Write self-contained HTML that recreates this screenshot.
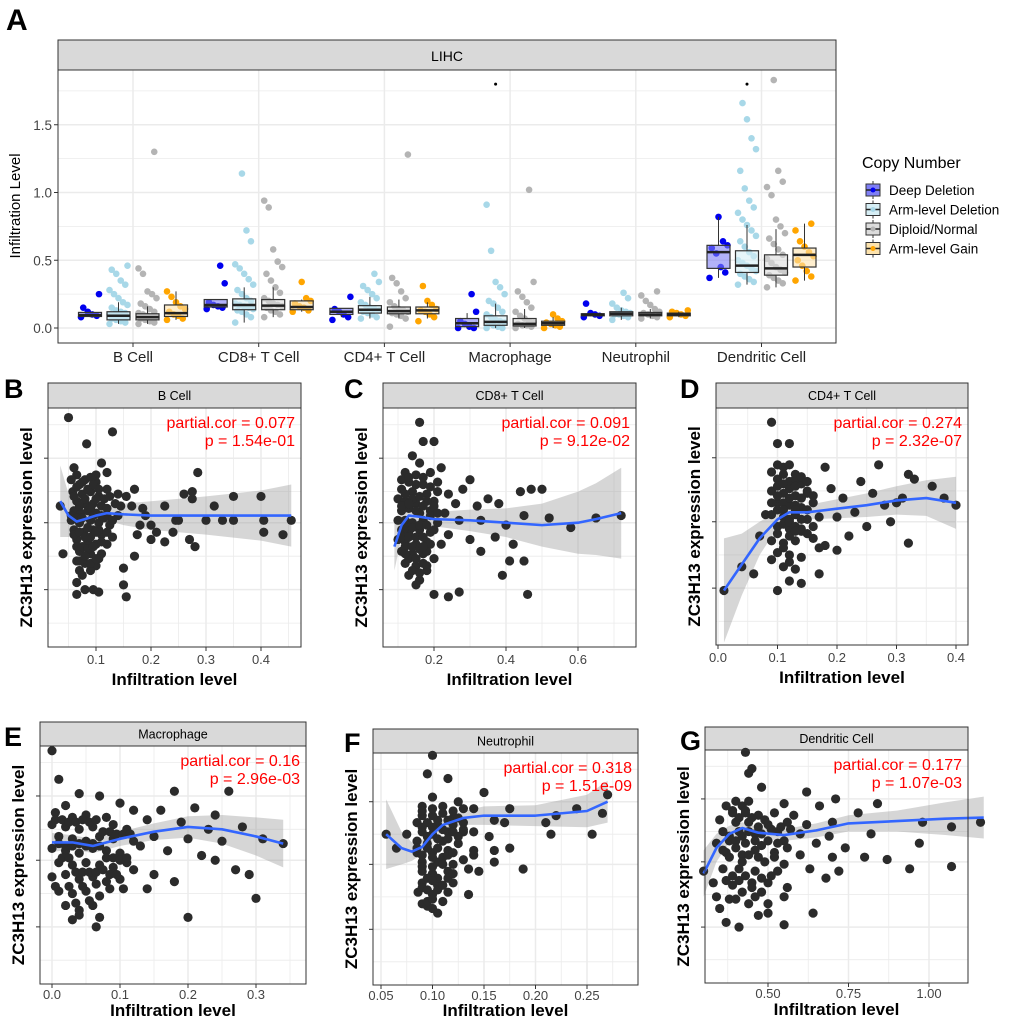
<!DOCTYPE html>
<html><head><meta charset="utf-8"><style>
html,body{margin:0;padding:0;background:#fff;}
svg{display:block;font-family:"Liberation Sans",Arial,sans-serif;}
</style></head><body>
<svg id="fig" width="1020" height="1020" viewBox="0 0 1020 1020" xmlns="http://www.w3.org/2000/svg"></svg>
<script>
// ===== Panel A data =====
const aCategories = ["B Cell","CD8+ T Cell","CD4+ T Cell","Macrophage","Neutrophil","Dendritic Cell"];
const aGroups = ["Deep Deletion","Arm-level Deletion","Diploid/Normal","Arm-level Gain"];
const aYTicks = [0,0.5,1.0,1.5];
const aYTickLabels = ["0.0","0.5","1.0","1.5"];
const aBoxDeep = [[0.085,0.095,0.115,0.08,0.12],[0.155,0.17,0.21,0.15,0.21],[0.1,0.12,0.145,0.08,0.145],[0.01,0.035,0.07,0,0.11],[0.09,0.1,0.105,0.085,0.11],[0.44,0.56,0.61,0.37,0.82]];
const aBoxArm = [[0.06,0.09,0.12,0.03,0.19],[0.135,0.17,0.215,0.04,0.3],[0.11,0.135,0.165,0.07,0.23],[0.02,0.045,0.09,0,0.18],[0.09,0.105,0.12,0.06,0.15],[0.41,0.46,0.57,0.32,0.76]];
const aBoxDip = [[0.06,0.08,0.105,0.03,0.16],[0.135,0.165,0.21,0.08,0.3],[0.105,0.125,0.155,0.07,0.21],[0.015,0.03,0.07,0,0.14],[0.09,0.1,0.115,0.07,0.14],[0.39,0.44,0.54,0.3,0.73]];
const aBoxGain = [[0.085,0.11,0.17,0.06,0.27],[0.135,0.155,0.2,0.12,0.21],[0.105,0.13,0.155,0.07,0.19],[0.02,0.035,0.05,0,0.08],[0.09,0.1,0.11,0.08,0.12],[0.45,0.54,0.59,0.35,0.77]];
const aPtsDeep = [[0.08,0.09,0.1,0.12,0.15,0.25],[0.14,0.15,0.16,0.17,0.19,0.33,0.46],[0.06,0.08,0.1,0.12,0.14,0.23],[0,0,0.01,0.03,0.05,0.12,0.25],[0.08,0.09,0.1,0.11,0.18],[0.37,0.41,0.45,0.55,0.59,0.61,0.64,0.82]];
const aPtsArm = [[0.03,0.04,0.05,0.06,0.07,0.08,0.08,0.09,0.1,0.1,0.11,0.12,0.13,0.15,0.17,0.19,0.22,0.25,0.28,0.32,0.35,0.4,0.43,0.46],[0.04,0.08,0.1,0.12,0.13,0.14,0.15,0.16,0.17,0.18,0.2,0.22,0.25,0.28,0.32,0.36,0.4,0.44,0.47,0.64,0.72,1.14],[0.07,0.08,0.1,0.11,0.12,0.13,0.14,0.15,0.17,0.19,0.22,0.25,0.28,0.31,0.34,0.4],[0,0,0.01,0.02,0.03,0.04,0.05,0.06,0.08,0.1,0.12,0.15,0.18,0.2,0.25,0.3,0.34,0.57,0.91],[0.06,0.08,0.09,0.1,0.1,0.11,0.12,0.13,0.15,0.18,0.22,0.26],[0.32,0.34,0.36,0.38,0.4,0.42,0.44,0.46,0.48,0.5,0.53,0.56,0.6,0.64,0.68,0.72,0.76,0.8,0.85,0.89,0.94,1.03,1.16,1.32,1.4,1.54,1.66]];
const aPtsDip = [[0.03,0.04,0.05,0.06,0.07,0.08,0.08,0.09,0.1,0.11,0.12,0.14,0.16,0.18,0.22,0.25,0.27,0.4,0.44,1.3],[0.08,0.1,0.12,0.13,0.15,0.16,0.17,0.18,0.2,0.22,0.26,0.3,0.35,0.4,0.45,0.49,0.58,0.89,0.94],[0.01,0.07,0.09,0.1,0.11,0.12,0.13,0.14,0.16,0.19,0.22,0.27,0.33,0.37,1.28],[0,0.01,0.02,0.02,0.03,0.04,0.05,0.07,0.09,0.12,0.15,0.19,0.23,0.27,0.34,1.02],[0.07,0.08,0.09,0.1,0.11,0.12,0.14,0.17,0.2,0.24,0.27],[0.3,0.33,0.35,0.37,0.39,0.41,0.43,0.45,0.48,0.51,0.54,0.58,0.62,0.66,0.7,0.75,0.8,0.98,1.04,1.08,1.16,1.83]];
const aPtsGain = [[0.06,0.07,0.09,0.1,0.12,0.14,0.16,0.19,0.23,0.27],[0.12,0.13,0.15,0.16,0.18,0.2,0.22,0.34],[0.05,0.08,0.1,0.12,0.13,0.14,0.17,0.2,0.31],[0,0.01,0.02,0.03,0.04,0.05,0.07,0.1],[0.08,0.09,0.1,0.11,0.12,0.13],[0.35,0.38,0.42,0.46,0.5,0.53,0.56,0.6,0.64,0.72,0.77]];
const aOutlierCats = [3,5];
const aOutlierVals = [1.8,1.8];

// ===== Scatter panel data (x = infiltration, y = relative expression 0-10) =====
const bX=[0.05,0.083,0.13,0.06,0.11,0.12,0.1,0.065,0.08,0.09,0.07,0.1,0.12,0.058,0.075,0.09,0.105,0.08,0.065,0.095,0.11,0.135,0.145,0.06,0.072,0.085,0.1,0.12,0.14,0.035,0.055,0.07,0.09,0.105,0.125,0.06,0.078,0.095,0.11,0.13,0.065,0.085,0.1,0.12,0.07,0.09,0.11,0.065,0.08,0.1,0.04,0.07,0.09,0.15,0.065,0.08,0.095,0.15,0.065,0.105,0.155,0.17,0.18,0.175,0.19,0.2,0.2,0.21,0.225,0.24,0.245,0.26,0.275,0.27,0.28,0.285,0.275,0.315,0.35,0.35,0.4,0.405,0.44,0.455,0.155,0.165,0.14,0.17,0.185,0.225,0.3,0.33,0.405,0.25];
const bY=[9.6,8.5,9.0,7.5,7.7,7.3,7.2,7.2,7.0,7.1,6.8,6.9,6.6,6.5,6.4,6.5,6.3,6.0,6.1,6.0,5.9,6.0,5.9,5.7,5.6,5.7,5.6,5.5,5.5,5.9,5.3,5.2,5.3,5.2,5.1,4.9,4.8,4.9,4.7,4.6,4.5,4.4,4.3,4.3,4.0,3.9,3.9,3.6,3.5,3.4,3.9,3.2,3.2,3.3,2.7,2.4,2.4,2.6,2.2,2.3,2.1,3.8,5.1,4.7,5.5,5.1,4.5,4.8,4.4,4.8,5.3,6.4,6.2,4.5,4.2,7.3,6.5,5.9,6.3,5.3,6.3,4.8,4.7,5.3,6.3,5.9,6.4,6.6,5.8,5.9,5.3,5.3,5.3,5.3];
const bX2=[0.055,0.065,0.075,0.085,0.095,0.105,0.115,0.125,0.06,0.07,0.08,0.09,0.1,0.11,0.12,0.13,0.055,0.065,0.075,0.085,0.095,0.105,0.115,0.06,0.07,0.08,0.09,0.1,0.11,0.12,0.065,0.075,0.085,0.095,0.105,0.07,0.08,0.09,0.1,0.075];
const bY2=[7.0,6.7,6.9,6.6,6.8,6.6,6.2,6.3,6.3,5.9,6.2,5.8,6.2,5.5,5.8,5.3,5.5,5.4,5.4,5.0,5.5,4.9,5.4,4.7,4.8,4.6,4.6,4.8,4.4,4.8,4.2,4.2,4.1,4.2,3.7,3.6,3.8,3.5,3.7,3.0];
const bFitX=[0.035,0.05,0.065,0.08,0.1,0.12,0.15,0.2,0.3,0.4,0.455];
const bFitY=[6.1,5.5,5.25,5.35,5.5,5.6,5.55,5.5,5.5,5.5,5.5];
const bFitSE=[1.5,0.9,0.45,0.3,0.25,0.3,0.45,0.6,0.8,1.05,1.3];

const cX=[0.16,0.17,0.2,0.14,0.16,0.22,0.12,0.15,0.19,0.13,0.17,0.21,0.11,0.14,0.18,0.24,0.1,0.12,0.15,0.2,0.26,0.11,0.13,0.16,0.19,0.23,0.1,0.12,0.14,0.17,0.21,0.27,0.11,0.13,0.16,0.19,0.24,0.1,0.12,0.15,0.18,0.22,0.11,0.14,0.17,0.2,0.12,0.15,0.18,0.13,0.16,0.2,0.24,0.27,0.3,0.32,0.33,0.35,0.37,0.38,0.4,0.41,0.42,0.44,0.45,0.46,0.47,0.5,0.52,0.58,0.65,0.72,0.3,0.28,0.33,0.39,0.45];
const cY=[9.4,8.6,8.6,8.0,7.7,7.5,7.3,7.2,7.3,6.9,6.8,6.9,6.6,6.5,6.4,6.4,6.2,6.1,6.0,6.1,6.0,5.7,5.8,5.6,5.7,5.6,5.3,5.3,5.2,5.3,5.2,5.3,4.9,4.8,4.9,4.8,4.7,4.5,4.4,4.3,4.4,4.3,4.0,3.9,3.9,3.7,3.5,3.4,3.2,3.0,2.8,2.2,2.1,2.3,4.5,5.9,5.3,6.2,4.6,6.0,5.1,3.6,4.3,6.5,5.5,2.2,6.6,6.6,5.4,5.0,5.4,5.5,7.0,6.6,4.0,3.0,3.6];
const cX2=[0.11,0.13,0.15,0.17,0.19,0.21,0.12,0.14,0.16,0.18,0.2,0.11,0.13,0.15,0.17,0.19,0.21,0.12,0.14,0.16,0.18,0.2,0.11,0.13,0.15,0.17,0.19,0.12,0.14,0.16,0.18,0.13,0.15,0.17,0.12,0.14,0.16,0.18,0.15,0.17];
const cY2=[7.0,7.1,6.8,7.1,6.7,6.5,6.4,6.2,6.3,6.1,5.9,5.9,6.0,5.7,5.9,5.5,5.6,5.0,5.0,5.1,5.1,4.9,4.6,4.6,4.6,4.6,4.3,4.2,4.2,4.1,4.0,3.7,3.7,3.5,3.9,3.2,3.1,3.4,2.6,4.2];
const cFitX=[0.09,0.11,0.13,0.16,0.2,0.3,0.4,0.5,0.6,0.65,0.72];
const cFitY=[4.2,5.1,5.5,5.45,5.35,5.3,5.2,5.1,5.2,5.35,5.6];
const cFitSE=[1.0,0.5,0.3,0.25,0.3,0.45,0.6,0.9,1.3,1.5,1.9];

const dX=[0.01,0.04,0.06,0.07,0.08,0.09,0.1,0.09,0.1,0.12,0.11,0.13,0.1,0.12,0.14,0.09,0.11,0.13,0.15,0.1,0.12,0.14,0.16,0.09,0.11,0.13,0.15,0.1,0.12,0.14,0.09,0.11,0.13,0.16,0.1,0.12,0.14,0.11,0.13,0.12,0.14,0.17,0.18,0.19,0.2,0.21,0.22,0.23,0.24,0.25,0.26,0.27,0.28,0.29,0.3,0.31,0.32,0.33,0.32,0.36,0.38,0.4,0.2,0.17,0.18];
const dY=[2.3,3.3,3.0,4.6,5.5,3.6,2.3,9.4,8.5,8.5,7.5,7.2,7.0,6.9,6.8,6.5,6.4,6.3,6.4,6.0,5.9,5.8,6.0,5.5,5.4,5.5,5.3,5.0,4.9,4.8,4.4,4.3,4.4,4.5,3.9,3.8,3.7,3.3,3.2,2.7,2.6,3.0,7.5,6.6,5.4,6.2,4.6,5.6,6.9,5.0,6.4,7.6,5.9,5.2,6.0,6.2,7.2,7.0,4.3,6.7,6.2,5.9,4.0,5.4,4.2];
const dX2=[0.09,0.1,0.11,0.12,0.13,0.14,0.15,0.1,0.11,0.12,0.13,0.14,0.15,0.16,0.09,0.1,0.11,0.12,0.13,0.14,0.15,0.1,0.11,0.12,0.13,0.14,0.11,0.12,0.13,0.14,0.1,0.12,0.13,0.15,0.16,0.17,0.11,0.12];
const dY2=[7.3,7.6,7.2,7.6,7.0,7.1,6.9,6.7,6.8,6.6,6.7,6.2,6.5,6.3,6.0,6.3,6.0,6.2,5.9,6.2,5.7,5.7,5.7,5.3,5.7,5.3,5.1,5.2,5.0,4.9,4.7,4.6,4.8,4.7,5.0,4.1,4.1,3.5];
const dFitX=[0.01,0.04,0.07,0.1,0.12,0.15,0.2,0.25,0.3,0.35,0.4];
const dFitY=[2.3,3.4,4.5,5.3,5.6,5.6,5.75,5.9,6.1,6.2,6.0];
const dFitSE=[2.2,1.3,0.7,0.35,0.25,0.3,0.4,0.5,0.6,0.75,1.1];

const eX=[0.0,0.01,0.02,0.04,0.07,0.1,0.12,0.005,0.03,0.05,0.08,0.0,0.02,0.04,0.06,0.09,0.11,0.01,0.03,0.05,0.07,0.09,0.12,0.0,0.02,0.04,0.06,0.08,0.1,0.01,0.03,0.05,0.07,0.09,0.11,0.0,0.02,0.04,0.06,0.08,0.1,0.01,0.03,0.05,0.07,0.02,0.04,0.06,0.03,0.07,0.065,0.04,0.13,0.14,0.15,0.15,0.16,0.17,0.18,0.18,0.19,0.2,0.2,0.21,0.22,0.23,0.24,0.24,0.25,0.26,0.27,0.28,0.29,0.3,0.31,0.34,0.14,0.12];
const eY=[9.8,8.6,7.5,8.0,7.9,7.6,7.3,7.2,7.0,7.1,7.0,6.7,6.6,6.5,6.6,6.7,6.5,6.2,6.1,6.0,6.2,6.1,6.0,5.7,5.6,5.5,5.7,5.6,5.5,5.1,5.0,5.1,5.0,4.9,5.1,4.5,4.6,4.4,4.5,4.3,4.4,3.9,3.8,3.9,3.7,3.3,3.1,3.3,2.7,2.8,2.4,2.9,5.8,6.9,6.2,4.6,7.3,5.6,8.1,4.3,6.8,6.1,2.8,7.4,5.4,6.5,7.1,5.2,6.0,8.1,4.8,6.6,4.6,3.6,6.1,5.9,4.0,4.8];
const eX2=[0.005,0.015,0.025,0.035,0.045,0.055,0.065,0.075,0.085,0.095,0.105,0.115,0.01,0.02,0.03,0.04,0.05,0.06,0.07,0.08,0.09,0.1,0.11,0.015,0.025,0.035,0.045,0.055,0.065,0.075,0.085,0.095,0.005,0.025,0.045,0.065,0.085,0.105,0.035,0.055];
const eY2=[6.9,6.9,6.8,6.8,6.9,6.8,6.9,6.4,6.4,6.3,6.3,6.3,5.9,5.8,5.8,5.9,5.8,5.9,5.8,5.3,5.3,5.2,5.3,5.3,5.3,4.7,4.7,4.7,4.7,4.8,4.6,4.6,4.1,4.1,4.1,4.2,4.0,4.0,3.4,3.5];
const eFitX=[0,0.03,0.06,0.1,0.15,0.2,0.25,0.3,0.34];
const eFitY=[5.95,5.95,5.8,6.1,6.4,6.6,6.5,6.2,5.9];
const eFitSE=[0.4,0.3,0.3,0.3,0.35,0.45,0.6,0.8,1.0];

const fX=[0.1,0.095,0.115,0.15,0.1,0.125,0.09,0.11,0.13,0.14,0.175,0.09,0.1,0.12,0.085,0.105,0.12,0.16,0.17,0.09,0.1,0.115,0.13,0.14,0.155,0.085,0.095,0.11,0.125,0.055,0.065,0.075,0.085,0.1,0.115,0.14,0.175,0.09,0.105,0.12,0.13,0.14,0.16,0.09,0.1,0.115,0.135,0.145,0.188,0.09,0.105,0.12,0.086,0.1,0.115,0.135,0.09,0.1,0.105,0.095,0.13,0.21,0.22,0.24,0.255,0.265,0.27,0.215,0.16];
const fY=[9.9,9.1,8.9,8.3,8.1,7.9,7.7,7.7,7.6,7.6,7.6,7.3,7.3,7.2,7.0,6.9,6.9,7.1,7.0,6.6,6.5,6.6,6.6,6.6,6.4,6.2,6.1,6.2,6.1,6.5,5.9,6.5,5.7,5.7,5.8,5.8,5.9,5.3,5.3,5.2,5.4,5.6,5.8,4.9,4.8,4.9,5.0,4.9,5.0,4.4,4.3,4.4,4.0,3.9,4.0,3.9,3.5,3.3,3.1,3.4,6.7,7.0,7.3,7.6,6.5,7.4,8.2,6.5,5.3];
const fX2=[0.09,0.095,0.1,0.105,0.11,0.115,0.12,0.125,0.13,0.09,0.095,0.1,0.105,0.11,0.115,0.12,0.125,0.085,0.09,0.095,0.1,0.105,0.11,0.115,0.12,0.09,0.095,0.1,0.105,0.11,0.115,0.12,0.09,0.095,0.1,0.105,0.11,0.095,0.1,0.11];
const fY2=[7.5,7.0,7.6,7.1,7.4,7.1,7.5,7.2,7.0,6.8,6.4,6.8,6.3,6.7,6.3,6.6,6.4,5.9,5.6,5.9,5.5,5.9,5.5,5.6,5.7,5.1,4.6,5.1,4.6,5.2,4.6,4.8,4.2,4.1,4.5,4.1,4.3,3.6,3.7,3.6];
const fFitX=[0.055,0.07,0.08,0.09,0.1,0.11,0.13,0.15,0.2,0.25,0.27];
const fFitY=[6.5,5.9,5.75,5.95,6.5,6.9,7.2,7.3,7.3,7.5,7.9];
const fFitSE=[1.5,0.7,0.4,0.3,0.25,0.25,0.3,0.4,0.45,0.7,0.9];

const gX=[0.43,0.45,0.44,0.48,0.62,0.71,0.4,0.42,0.44,0.55,0.66,0.84,0.39,0.43,0.47,0.52,0.58,0.78,0.35,0.4,0.44,0.5,0.56,0.62,0.7,0.98,1.07,1.16,0.36,0.41,0.46,0.53,0.6,0.69,0.82,0.34,0.38,0.43,0.48,0.55,0.65,0.74,0.97,0.37,0.42,0.47,0.52,0.6,0.7,0.8,0.87,1.07,0.3,0.36,0.41,0.46,0.53,0.63,0.72,0.94,0.33,0.39,0.45,0.5,0.56,0.68,0.34,0.38,0.48,0.55,0.35,0.47,0.5,0.64,0.37,0.41,0.55];
const gY=[9.9,9.2,9.0,8.4,8.2,7.9,7.8,7.6,7.8,7.7,7.6,7.7,7.4,7.3,7.2,7.3,7.2,7.3,7.0,6.9,6.9,6.8,6.9,6.8,6.9,6.9,6.7,6.9,6.5,6.5,6.4,6.5,6.4,6.3,6.4,6.0,6.1,6.0,5.9,6.1,6.0,5.8,6.0,5.6,5.5,5.4,5.6,5.5,5.4,5.4,5.3,5.0,4.8,4.9,4.9,4.8,4.8,4.9,4.8,4.9,4.3,4.2,4.3,4.3,4.1,4.5,3.7,3.6,3.9,3.7,3.2,2.9,3.0,3.0,2.6,2.4,2.5];
const gX2=[0.37,0.39,0.41,0.43,0.45,0.47,0.49,0.51,0.54,0.57,0.38,0.4,0.42,0.44,0.46,0.48,0.5,0.53,0.56,0.36,0.38,0.4,0.42,0.44,0.46,0.49,0.52,0.55,0.37,0.39,0.41,0.43,0.45,0.48,0.51,0.4,0.42,0.44,0.46,0.5];
const gY2=[7.6,7.3,7.1,7.4,7.1,6.7,7.0,6.6,6.7,6.6,6.3,6.1,6.3,6.5,6.1,6.4,6.1,6.0,5.8,5.7,5.4,5.8,5.2,5.5,5.7,5.2,5.4,5.1,4.4,4.6,4.4,4.6,4.1,4.5,4.6,3.6,3.9,3.4,3.7,3.4];
const gFitX=[0.3,0.34,0.38,0.42,0.47,0.55,0.65,0.75,0.9,1.05,1.17];
const gFitY=[4.7,5.8,6.4,6.65,6.45,6.35,6.55,6.85,6.95,7.05,7.1];
const gFitSE=[1.0,0.6,0.35,0.25,0.25,0.25,0.3,0.35,0.45,0.7,0.9];

const svg=document.getElementById('fig');
const NS='http://www.w3.org/2000/svg';
function mk(tag,attrs,parent,text){const e=document.createElementNS(NS,tag);for(const k in attrs)e.setAttribute(k,attrs[k]);if(text!==undefined)e.textContent=text;(parent||svg).appendChild(e);return e;}

// ===== Panel A =====
const A={l:58,r:836,t:70,b:343,stripT:40};
const aY=v=>328-v*135.5;
const aX=i=>133+i*125.7;
const gOff=[-43,-14.5,14.5,43];
const gBoxFill=["#7f7ff5","#d6eef5","#dcdcdc","#fde3ad"];
const gPtCol=["#0000ee","#a8d8e8","#b4b4b4","#ffa500"];
const boxSets=[aBoxDeep,aBoxArm,aBoxDip,aBoxGain];
const ptSets=[aPtsDeep,aPtsArm,aPtsDip,aPtsGain];
let t=mk('text',{x:6,y:30,'font-size':30,'font-weight':'bold'},svg,'A');

const gA=mk('g',{});

let r=mk('rect',{x:A.l,y:A.stripT,width:A.r-A.l,height:A.t-A.stripT,fill:'#d9d9d9',stroke:'#333','stroke-width':1},gA);

t=mk('text',{x:(A.l+A.r)/2,y:61,'font-size':14,'text-anchor':'middle'},gA,'LIHC');

mk('rect',{x:A.l,y:A.t,width:A.r-A.l,height:A.b-A.t,fill:'#fff'},gA);
for(let v=0;v<=1.75;v+=0.25){mk('line',{x1:A.l,x2:A.r,y1:aY(v),y2:aY(v),stroke:'#ebebeb','stroke-width':(Math.round(v*4)%2?0.8:1.5)},gA);}
aCategories.forEach((c,i)=>{mk('line',{x1:aX(i),x2:aX(i),y1:A.t,y2:A.b,stroke:'#ebebeb','stroke-width':1.5},gA);});
ptSets.forEach((set,g)=>{set.forEach((vals,ci)=>{vals.forEach((v,k)=>{
  const j=(((k*7)%9)-4)/4*9;
  const p=mk('circle',{cx:aX(ci)+gOff[g]+j,cy:aY(v),r:3.3,fill:gPtCol[g]},gA);
  
  
});});});
boxSets.forEach((set,g)=>{set.forEach((s,ci)=>{
  const cx=aX(ci)+gOff[g],w=23;
  const bg=mk('g',{},gA);
  
  
  mk('line',{x1:cx,x2:cx,y1:aY(s[4]),y2:aY(s[2]),stroke:'#333','stroke-width':1},bg);
  mk('line',{x1:cx,x2:cx,y1:aY(s[0]),y2:aY(s[3]),stroke:'#333','stroke-width':1},bg);
  mk('rect',{x:cx-w/2,y:aY(s[2]),width:w,height:aY(s[0])-aY(s[2]),fill:gBoxFill[g],'fill-opacity':0.6,stroke:'#333','stroke-width':1.2},bg);
  mk('line',{x1:cx-w/2,x2:cx+w/2,y1:aY(s[1]),y2:aY(s[1]),stroke:'#222','stroke-width':2.5},bg);
});});
aOutlierCats.forEach((ci,k)=>{const o=mk('circle',{cx:aX(ci)+gOff[1],cy:aY(aOutlierVals[k]),r:1.5,fill:'#000'},gA);
});
mk('rect',{x:A.l,y:A.t,width:A.r-A.l,height:A.b-A.t,fill:'none',stroke:'#333','stroke-width':1},gA);
aYTicks.forEach((v,i)=>{mk('line',{x1:A.l-4,x2:A.l,y1:aY(v),y2:aY(v),stroke:'#333'},gA);
  const tl=mk('text',{x:A.l-6,y:aY(v)+5,'font-size':13.5,'text-anchor':'end',fill:'#444'},gA,aYTickLabels[i]);
  });
aCategories.forEach((c,i)=>{mk('line',{x1:aX(i),x2:aX(i),y1:A.b,y2:A.b+4,stroke:'#333'},gA);
  const tl=mk('text',{x:aX(i),y:362,'font-size':15,'text-anchor':'middle',fill:'#222'},gA,c);
  });
t=mk('text',{x:0,y:0,'font-size':15,'text-anchor':'middle',transform:'translate(20,206) rotate(-90)'},gA,'Infiltration Level');

const lg=mk('g',{});

mk('text',{x:862,y:168,'font-size':16},lg,'Copy Number');
aGroups.forEach((gname,g)=>{const y=190+g*19.5;
  const e=mk('g',{},lg);
  
  mk('line',{x1:873,x2:873,y1:y-9,y2:y+9,stroke:'#333'},e);
  mk('rect',{x:866,y:y-6,width:14,height:12,fill:gBoxFill[g],stroke:'#333'},e);
  mk('line',{x1:866,x2:880,y1:y,y2:y,stroke:'#222','stroke-width':1.5},e);
  mk('circle',{cx:873,cy:y,r:2.5,fill:gPtCol[g]},e);
  mk('text',{x:889,y:y+5,'font-size':13.5},e,gname);
});

// ===== Scatter panels =====
function scatter(cfg){
  const g=mk('g',{});
  
  const L=cfg.l,R=cfg.r,T=cfg.t,B=cfg.b;
  const X=v=>cfg.x0px+(v-cfg.x0)*cfg.k;
  const Y=v=>B-v/10*(B-T);
  const lab=mk('text',{x:cfg.labX,y:cfg.labY,'font-size':27,'font-weight':'bold'},svg,cfg.letter);
  
  const st=mk('rect',{x:L,y:cfg.st,width:R-L,height:T-cfg.st,fill:'#d9d9d9',stroke:'#333','stroke-width':1},g);
  
  mk('text',{x:(L+R)/2,y:(cfg.st+T)/2+4.5,'font-size':12.5,'text-anchor':'middle'},g,cfg.title);
  mk('rect',{x:L,y:T,width:R-L,height:B-T,fill:'#fff'},g);
  [1.0,2.4,3.8,5.2,6.5,7.9,9.3].forEach((v,i)=>mk('line',{x1:L,x2:R,y1:Y(v),y2:Y(v),stroke:'#ebebeb','stroke-width':i%2?1.5:0.8},g));
  const step=cfg.ticks[1]-cfg.ticks[0];
  for(let v=cfg.ticks[0]-step/2;v<=cfg.ticks[cfg.ticks.length-1]+step;v+=step/2){const px=X(v);if(px>L&&px<R)mk('line',{x1:px,x2:px,y1:T,y2:B,stroke:'#ebebeb','stroke-width':0.8},g);}
  cfg.ticks.forEach(v=>mk('line',{x1:X(v),x2:X(v),y1:T,y2:B,stroke:'#ebebeb','stroke-width':1.5},g));
  let up='',dn='';
  cfg.fx.forEach((v,i)=>{up+=(i?'L':'M')+X(v)+','+Y(cfg.fy[i]+cfg.se[i]);});
  for(let i=cfg.fx.length-1;i>=0;i--)dn+='L'+X(cfg.fx[i])+','+Y(cfg.fy[i]-cfg.se[i]);
  const band=mk('path',{d:up+dn+'Z',fill:'#999','fill-opacity':0.4},g);
  
  cfg.px.forEach((v,i)=>{const c=mk('circle',{cx:X(v),cy:Y(cfg.py[i]),r:4.6,fill:'#2b2b2b'},g);
    });
  let d='';cfg.fx.forEach((v,i)=>{d+=(i?'L':'M')+X(v)+','+Y(cfg.fy[i]);});
  const ln=mk('path',{d:d,fill:'none',stroke:'#3366ff','stroke-width':2.6,'stroke-linejoin':'round'},g);
  
  mk('rect',{x:L,y:T,width:R-L,height:B-T,fill:'none',stroke:'#333','stroke-width':1},g);
  [2.4,5.2,7.9].forEach(v=>mk('line',{x1:L-4,x2:L,y1:Y(v),y2:Y(v),stroke:'#333'},g));
  const tkY=cfg.tkY||17, ttY=cfg.ttY||38;
  cfg.ticks.forEach((v,i)=>{mk('line',{x1:X(v),x2:X(v),y1:B,y2:B+4,stroke:'#333'},g);
    const tl=mk('text',{x:X(v),y:B+tkY,'font-size':13,'text-anchor':'middle',fill:'#444'},g,cfg.tickLabels[i]);
    });
  const xt=mk('text',{x:(L+R)/2,y:B+ttY,'font-size':17,'font-weight':'bold','text-anchor':'middle'},g,'Infiltration level');
  
  const yt=mk('text',{x:0,y:0,'font-size':17,'font-weight':'bold','text-anchor':'middle',transform:'translate('+(L-16)+','+((T+B)/2)+') rotate(-90)'},g,'ZC3H13 expression level');
  
  const c1=mk('text',{x:R-6,y:T+20,'font-size':16,'text-anchor':'end',fill:'#ff0000'},g,'partial.cor = '+cfg.cor);
  
  const c2=mk('text',{x:R-6,y:T+38,'font-size':16,'text-anchor':'end',fill:'#ff0000'},g,'p = '+cfg.p);
  
}
scatter({name:'panel-b-bcell',letter:'B',labX:4,labY:398,title:'B Cell',l:48,r:301,st:383,t:408,b:647,x0:0,x0px:41,k:550,ticks:[0.1,0.2,0.3,0.4],tickLabels:['0.1','0.2','0.3','0.4'],px:bX.concat(bX2),py:bY.concat(bY2),fx:bFitX,fy:bFitY,se:bFitSE,cor:'0.077',p:'1.54e-01'});
scatter({name:'panel-c-cd8',letter:'C',labX:344,labY:398,title:'CD8+ T Cell',l:383,r:636,st:383,t:408,b:647,x0:0,x0px:362,k:360,ticks:[0.2,0.4,0.6],tickLabels:['0.2','0.4','0.6'],px:cX.concat(cX2),py:cY.concat(cY2),fx:cFitX,fy:cFitY,se:cFitSE,cor:'0.091',p:'9.12e-02'});
scatter({name:'panel-d-cd4',letter:'D',labX:680,labY:398,title:'CD4+ T Cell',l:716,r:968,st:383,t:408,b:645,x0:0,x0px:718,k:595,ticks:[0.0,0.1,0.2,0.3,0.4],tickLabels:['0.0','0.1','0.2','0.3','0.4'],px:dX.concat(dX2),py:dY.concat(dY2),fx:dFitX,fy:dFitY,se:dFitSE,cor:'0.274',p:'2.32e-07'});
scatter({name:'panel-e-macrophage',letter:'E',labX:4,labY:746,title:'Macrophage',l:40,r:306,st:722,t:746,b:984,x0:0,x0px:52,k:680,ticks:[0.0,0.1,0.2,0.3],tickLabels:['0.0','0.1','0.2','0.3'],px:eX.concat(eX2),py:eY.concat(eY2),fx:eFitX,fy:eFitY,se:eFitSE,cor:'0.16',p:'2.96e-03',tkY:15,ttY:32});
scatter({name:'panel-f-neutrophil',letter:'F',labX:344,labY:752,title:'Neutrophil',l:373,r:638,st:729,t:753,b:985,x0:0.05,x0px:381,k:1030,ticks:[0.05,0.10,0.15,0.20,0.25],tickLabels:['0.05','0.10','0.15','0.20','0.25'],px:fX.concat(fX2),py:fY.concat(fY2),fx:fFitX,fy:fFitY,se:fFitSE,cor:'0.318',p:'1.51e-09',tkY:15,ttY:31});
scatter({name:'panel-g-dendritic',letter:'G',labX:680,labY:750,title:'Dendritic Cell',l:705,r:968,st:727,t:750,b:983,x0:0.5,x0px:768,k:322,ticks:[0.5,0.75,1.0],tickLabels:['0.50','0.75','1.00'],px:gX.concat(gX2),py:gY.concat(gY2),fx:gFitX,fy:gFitY,se:gFitSE,cor:'0.177',p:'1.07e-03',tkY:15,ttY:32});
</script>
</body></html>
